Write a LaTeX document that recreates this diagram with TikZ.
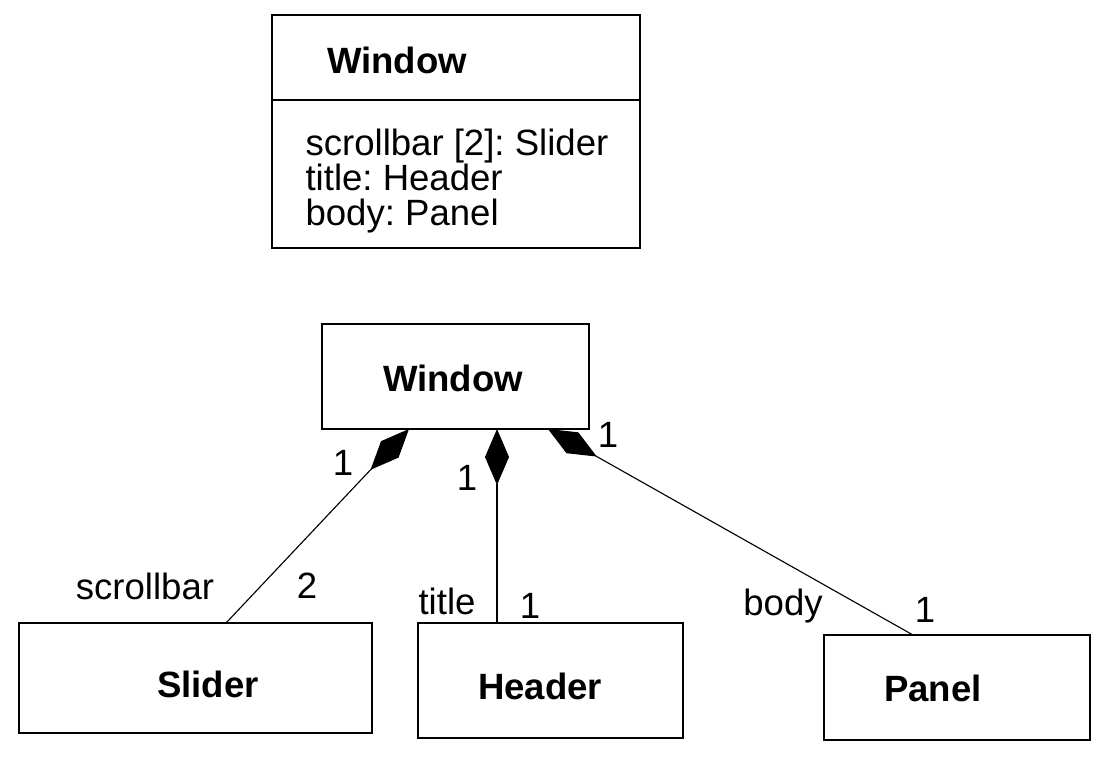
\documentclass[tikz,border=0pt]{standalone}
\usepackage{fontspec}
\setmainfont{Liberation Sans}
\usetikzlibrary{arrows.meta}
\frenchspacing

\tikzset{
  umlbox/.style={draw, line width=0.6pt, inner sep=0pt},
  boldtxt/.style={font=\fontsize{13}{14}\selectfont\bfseries, inner sep=0pt},
  plaintxt/.style={font=\fontsize{13}{12.45}\selectfont, inner sep=0pt, align=left},
  compose/.style={line width=0.4pt, {Diamond[length=0.7cm,width=0.3cm]}-}
}

\begin{document}
\begin{tikzpicture}[x=0.0125cm,y=-0.0125cm]
  \useasboundingbox (0,0) rectangle (1102,756);

  % Class with attributes
  \node[umlbox, minimum width=4.6cm, minimum height=2.9125cm] (attrbox) at (456,131.5) {};
  \draw[line width=0.9pt] (272,100) -- (641,100);
  \node[boldtxt] (attrname) at (397,60) {Window};
  \node[plaintxt, anchor=north west] (attrlist) at (305,128)
    {scrollbar [2]: Slider\\title: Header\\body: Panel};

  % Class with composition
  \node[umlbox, minimum width=3.3375cm, minimum height=1.3125cm] (window) at (455.5,376.5) {};
  \node[umlbox, minimum width=4.4125cm, minimum height=1.375cm] (slider) at (195.5,678) {};
  \node[umlbox, minimum width=3.3125cm, minimum height=1.4375cm] (header) at (550.5,680.5) {};
  \node[umlbox, minimum width=3.325cm, minimum height=1.3125cm] (panel) at (957,687.5) {};

  \node[boldtxt] (windowtxt) at (453,378) {Window};
  \node[boldtxt] (slidertxt) at (208,684) {Slider};
  \node[boldtxt] (headertxt) at (540,686) {Header};
  \node[boldtxt] (paneltxt) at (933,688) {Panel};

  % Attachment points
  \coordinate (w1) at (409,429);
  \coordinate (w2) at (497,429);
  \coordinate (w3) at (548,429);
  \coordinate (s1) at (226,623);
  \coordinate (h1) at (497,623);
  \coordinate (p1) at (913,635);

  \draw[compose] (w1) -- (s1);
  \draw[compose] (w2) -- (h1);
  \draw[compose] (w3) -- (p1);

  % Labeling the ends
  \node[plaintxt] (m1) at (343,463) {1};
  \node[plaintxt] (m2) at (467,478) {1};
  \node[plaintxt] (m3) at (608,435) {1};
  \node[plaintxt] (r1) at (145,586) {scrollbar};
  \node[plaintxt] (n1) at (307,586) {2};
  \node[plaintxt] (r2) at (447,601) {title};
  \node[plaintxt] (n2) at (530,606) {1};
  \node[plaintxt] (r3) at (783,606) {body};
  \node[plaintxt] (n3) at (925,610) {1};
\end{tikzpicture}
\end{document}
